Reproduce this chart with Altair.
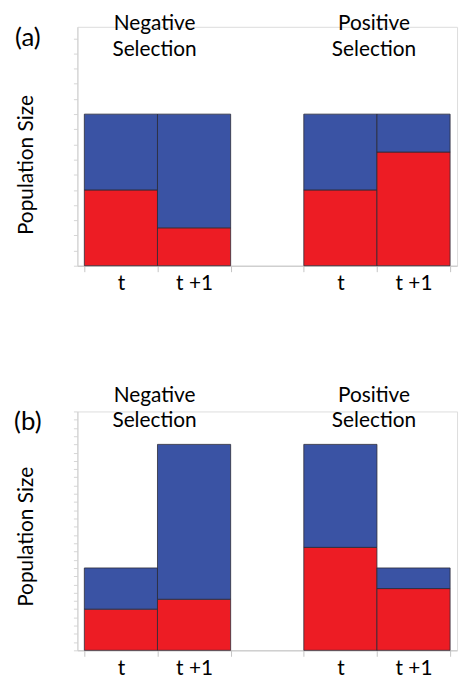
import altair as alt
import pandas as pd

# ---- data ----
categories = ["neg_t", "neg_t1", "gap", "pos_t", "pos_t1"]
tick_labels = ["t", "t +1", "", "t", "t +1"]
a_red = [5, 2.5, 0, 5, 7.5]
a_total = [10, 10, 0, 10, 10]
b_red = [5, 6.2, 0, 12.5, 7.5]
b_total = [10, 25, 0, 25, 10]
panel_titles = ["Negative\nSelection", "Positive\nSelection"]
title_anchor = ["neg_t1", "pos_t1"]
parts = ["Red", "Blue"]
part_colors = ["#ED1C24", "#3A53A4"]

FONT = "Lato"

def long_table(red, total):
    rows = []
    for c, r, t in zip(categories, red, total):
        if t == 0:
            continue
        rows.append({"cat": c, "part": "Red", "ord": 0, "value": r})
        rows.append({"cat": c, "part": "Blue", "ord": 1, "value": t - r})
    return pd.DataFrame(rows)

cat_list = "[" + ",".join("'%s'" % c for c in categories) + "]"
lab_list = "[" + ",".join("'%s'" % l for l in tick_labels) + "]"
label_expr = f"{lab_list}[indexof({cat_list}, datum.value)]"

xscale = alt.Scale(domain=categories, paddingInner=0, paddingOuter=0.095)


def panel(red, total, ymax, tag, title_y, ytitle_y):
    df = long_table(red, total)
    bars = alt.Chart(df).mark_bar(stroke="#2b2b38", strokeWidth=0.8).encode(
        x=alt.X("cat:N", scale=xscale, sort=categories,
                axis=alt.Axis(title=None, tickBand="extent", labelExpr=label_expr,
                              labelAngle=0, labelFontSize=21, labelFont=FONT,
                              labelColor="#000000", labelPadding=1, tickSize=6,
                              domainColor="#c4c4c4", tickColor="#c4c4c4", grid=False)),
        y=alt.Y("value:Q", stack="zero",
                scale=alt.Scale(domain=[0, ymax], nice=False, zero=True),
                axis=alt.Axis(values=list(range(int(ymax) + 1)), labels=False,
                              title="Population Size", titleFontSize=21, titleFont=FONT,
                              titleFontWeight="normal", titleColor="#000000",
                              titleAngle=270, titleBaseline="alphabetic", titleAlign="center",
                              titleX=-45, titleY=ytitle_y, tickSize=4,
                              domainColor="#cfcfcf", tickColor="#d6d6d6", grid=False)),
        color=alt.Color("part:N", scale=alt.Scale(domain=parts, range=part_colors), legend=None),
        order=alt.Order("ord:Q"),
    )
    tdf = pd.DataFrame({"cat": title_anchor, "txt": panel_titles})
    titles = alt.Chart(tdf).mark_text(
        font=FONT, fontSize=21, lineBreak="\n", lineHeight=25.5, align="center",
        baseline="alphabetic", color="#000000", dx=-3,
    ).encode(
        x=alt.X("cat:N", scale=xscale, bandPosition=0, title=None),
        y=alt.value(title_y),
        text="txt:N",
    )
    tagc = alt.Chart(pd.DataFrame({"tag": [tag]})).mark_text(
        font=FONT, fontSize=26, align="center", baseline="alphabetic", color="#000000",
    ).encode(x=alt.value(-50), y=alt.value(19), text="tag:N")
    return alt.layer(bars, titles, tagc).properties(width=383, height=241)

top = panel(a_red, a_total, 15.76, "(a)", 3.5, 139)
bottom = panel(b_red, b_total, 29, "(b)", -10, 126)

chart = alt.vconcat(top, bottom, spacing=90).configure_view(stroke=None).configure(
    font=FONT, padding={"left": 5, "top": 2, "right": 5, "bottom": 5})

chart.save("out.html", embed_options={"renderer": "svg", "actions": False})
